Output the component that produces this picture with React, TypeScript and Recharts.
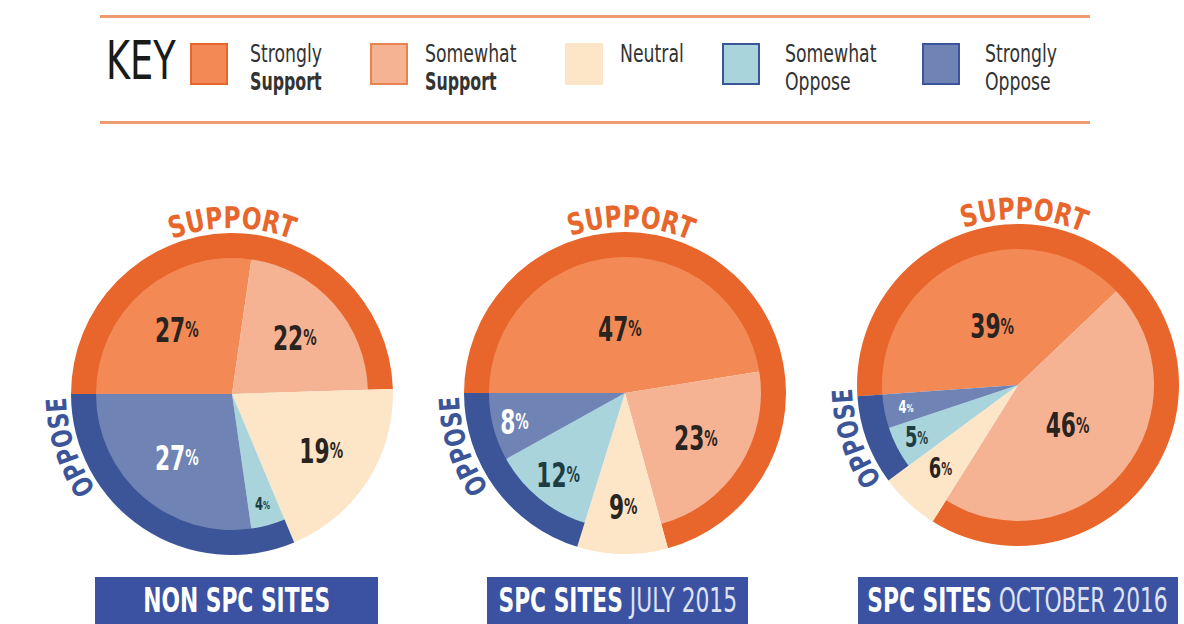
import React from 'react';
import { PieChart, Pie, Cell } from 'recharts';

// categories in the key, in pie order (clockwise from the left)
const categories = ['Strongly Support', 'Somewhat Support', 'Neutral', 'Somewhat Oppose', 'Strongly Oppose'];
const keyLine1 = ['Strongly', 'Somewhat', 'Neutral', 'Somewhat', 'Strongly'];
const keyLine2 = ['Support', 'Support', '', 'Oppose', 'Oppose'];

// percentages per site group
const nonSpcValues = [27, 22, 19, 4, 27];
const july2015Values = [47, 23, 9, 12, 8];
const oct2016Values = [39, 46, 6, 5, 4];

const titleMain = ['NON SPC SITES', 'SPC SITES', 'SPC SITES'];
const titleSub = ['', 'JULY 2015', 'OCTOBER 2016'];

const groupNames = ['Support', 'Neutral', 'Oppose'];

// colours
const sliceColors = ['#F38A55', '#F6B394', '#FDE6C8', '#A9D4DC', '#6F84B4'];
const swatchBorders = ['#E8662B', '#E8824F', '#FDE6C8', '#3C5598', '#3C5598'];
const ringColors = ['#E8662B', '#FDE6C8', '#3C5598'];
const labelColors = ['#2a2420', '#2a2420', '#2a2420', '#1d3d42', '#ffffff'];
const ORANGE = '#E8662B';
const NAVY = '#3C5598';
const BOX = '#3B52A3';

const FONT = "'DejaVu Sans', sans-serif";

// layout
const pieCx = [232, 625, 1018];
const pieCy = [394, 393, 385];
const pieStart = [180, 180, 184];
const R_IN = 136;
const R_OUT = 161;
const keySwatchX = [190, 370, 565, 722, 922];
const keyTextX = [250, 425, 620, 785, 985];
const boxX = [95, 487, 858];
const boxW = [283, 261, 320];
const supportCenter = [270, 272, 272];

const allValues = [nonSpcValues, july2015Values, oct2016Values];

const makeSlices = (vals: number[]) => vals.map((v, i) => ({ name: categories[i], value: v, idx: i }));
const makeGroups = (vals: number[]) => [
  { name: groupNames[0], value: vals[0] + vals[1] },
  { name: groupNames[1], value: vals[2] },
  { name: groupNames[2], value: vals[3] + vals[4] },
];

const RAD = Math.PI / 180;

const renderLabel = (props: any) => {
  const { cx, cy, midAngle, outerRadius, value, payload } = props;
  const f = value >= 35 ? 0.47 : value >= 20 ? 0.62 : value >= 10 ? 0.78 : 0.84;
  const r = outerRadius * f;
  const x = cx + r * Math.cos(-midAngle * RAD);
  const y = cy + r * Math.sin(-midAngle * RAD);
  const size = value <= 4 ? 18 : value <= 6 ? 28 : 34;
  const idx = payload?.idx ?? props.index;
  return (
    <g transform={`translate(${x},${y}) scale(0.64,1)`}>
      <text
        x={0}
        y={0}
        textAnchor="middle"
        dominantBaseline="central"
        fill={labelColors[idx]}
        fontFamily={FONT}
        fontWeight="bold"
        fontSize={size}
      >
        <tspan>{value}</tspan>
        <tspan fontSize={Math.round(size * 0.62)}>%</tspan>
      </text>
    </g>
  );
};

// screen-angle arc (degrees clockwise from +x)
const arcPath = (cx: number, cy: number, r: number, a0: number, a1: number) => {
  const x0 = cx + r * Math.cos(a0 * RAD);
  const y0 = cy + r * Math.sin(a0 * RAD);
  const x1 = cx + r * Math.cos(a1 * RAD);
  const y1 = cy + r * Math.sin(a1 * RAD);
  const large = Math.abs(a1 - a0) > 180 ? 1 : 0;
  return `M ${x0} ${y0} A ${r} ${r} 0 ${large} 1 ${x1} ${y1}`;
};

const narrow = (s: number, origin = 'left'): React.CSSProperties => ({
  display: 'inline-block',
  transform: `scaleX(${s})`,
  transformOrigin: origin,
  whiteSpace: 'nowrap',
  flexShrink: 0,
});

const App: React.FC = () => {
  return (
    <div
      style={{
        position: 'absolute',
        left: 0,
        top: 0,
        width: 1184,
        height: 624,
        background: '#fff',
        overflow: 'hidden',
        fontFamily: FONT,
      }}
    >
      {/* key */}
      <div style={{ position: 'absolute', left: 100, top: 15, width: 990, height: 3, background: '#EF9B70' }} />
      <div style={{ position: 'absolute', left: 100, top: 121, width: 990, height: 3, background: '#EF9B70' }} />
      <div style={{ position: 'absolute', left: 106, top: 30, fontSize: 54, lineHeight: '62px', color: '#1a1a1a' }}>
        <span style={narrow(0.68)}>KEY</span>
      </div>
      {categories.map((c, i) => (
        <React.Fragment key={c}>
          <div
            style={{
              position: 'absolute',
              left: keySwatchX[i],
              top: 43,
              width: 34,
              height: 38,
              background: sliceColors[i],
              border: `2px solid ${swatchBorders[i]}`,
            }}
          />
          <div
            style={{
              position: 'absolute',
              left: keyTextX[i],
              top: 40,
              fontSize: 24,
              lineHeight: '28px',
              color: '#333',
            }}
          >
            <div>
              <span style={narrow(0.72)}>{keyLine1[i]}</span>
            </div>
            <div style={{ fontWeight: i < 2 ? 'bold' : 'normal' }}>
              <span style={narrow(i < 2 ? 0.66 : 0.72)}>{keyLine2[i]}</span>
            </div>
          </div>
        </React.Fragment>
      ))}

      {/* pies */}
      <div style={{ position: 'absolute', left: 0, top: 0 }}>
        <PieChart width={1184} height={624} margin={{ top: 0, right: 0, bottom: 0, left: 0 }}>
          {allValues.map((vals, k) => (
            <Pie
              key={`ring${k}`}
              data={makeGroups(vals)}
              dataKey="value"
              nameKey="name"
              cx={pieCx[k]}
              cy={pieCy[k]}
              innerRadius={R_IN - 1}
              outerRadius={R_OUT}
              startAngle={pieStart[k]}
              endAngle={pieStart[k] - 360}
              stroke="none"
              isAnimationActive={false}
            >
              {ringColors.map((col, i) => (
                <Cell key={i} fill={col} />
              ))}
            </Pie>
          ))}
          {allValues.map((vals, k) => (
            <Pie
              key={`pie${k}`}
              data={makeSlices(vals)}
              dataKey="value"
              nameKey="name"
              cx={pieCx[k]}
              cy={pieCy[k]}
              innerRadius={0}
              outerRadius={R_IN}
              startAngle={pieStart[k]}
              endAngle={pieStart[k] - 360}
              stroke="none"
              label={renderLabel}
              labelLine={false}
              isAnimationActive={false}
            >
              {sliceColors.map((col, i) => (
                <Cell key={i} fill={col} />
              ))}
            </Pie>
          ))}
        </PieChart>
      </div>

      {/* curved SUPPORT / OPPOSE titles */}
      <svg width={1184} height={624} style={{ position: 'absolute', left: 0, top: 0, pointerEvents: 'none' }}>
        <defs>
          {pieCx.map((cx, k) => (
            <React.Fragment key={k}>
              <path id={`sup${k}`} d={arcPath(cx, pieCy[k], R_OUT + 5, supportCenter[k] - 60, supportCenter[k] + 60)} />
              <path id={`opp${k}`} d={arcPath(cx, pieCy[k], R_OUT + 5, 122, 202)} />
            </React.Fragment>
          ))}
        </defs>
        {pieCx.map((cx, k) => (
          <React.Fragment key={k}>
            <text fill={ORANGE} fontFamily={FONT} fontWeight="bold" fontSize={30}>
              <textPath
                href={`#sup${k}`}
                startOffset="50%"
                textAnchor="middle"
                textLength={122}
                lengthAdjust="spacingAndGlyphs"
              >
                SUPPORT
              </textPath>
            </text>
            <text fill={NAVY} fontFamily={FONT} fontWeight="bold" fontSize={28}>
              <textPath
                href={`#opp${k}`}
                startOffset="50%"
                textAnchor="middle"
                textLength={98}
                lengthAdjust="spacingAndGlyphs"
              >
                OPPOSE
              </textPath>
            </text>
          </React.Fragment>
        ))}
      </svg>

      {/* site titles */}
      {titleMain.map((t, k) => (
        <div
          key={k}
          style={{
            position: 'absolute',
            left: boxX[k],
            top: 577,
            width: boxW[k],
            height: 47,
            background: BOX,
            color: '#fff',
            fontSize: 33,
            lineHeight: '47px',
            display: 'flex',
            justifyContent: 'center',
            whiteSpace: 'nowrap',
          }}
        >
          <span style={narrow(0.66, 'center')}>
            <span style={{ fontWeight: 'bold' }}>{t}</span>
            {titleSub[k] && <span style={{ color: '#dfe3f2' }}> {titleSub[k]}</span>}
          </span>
        </div>
      ))}
    </div>
  );
};

export default App;
